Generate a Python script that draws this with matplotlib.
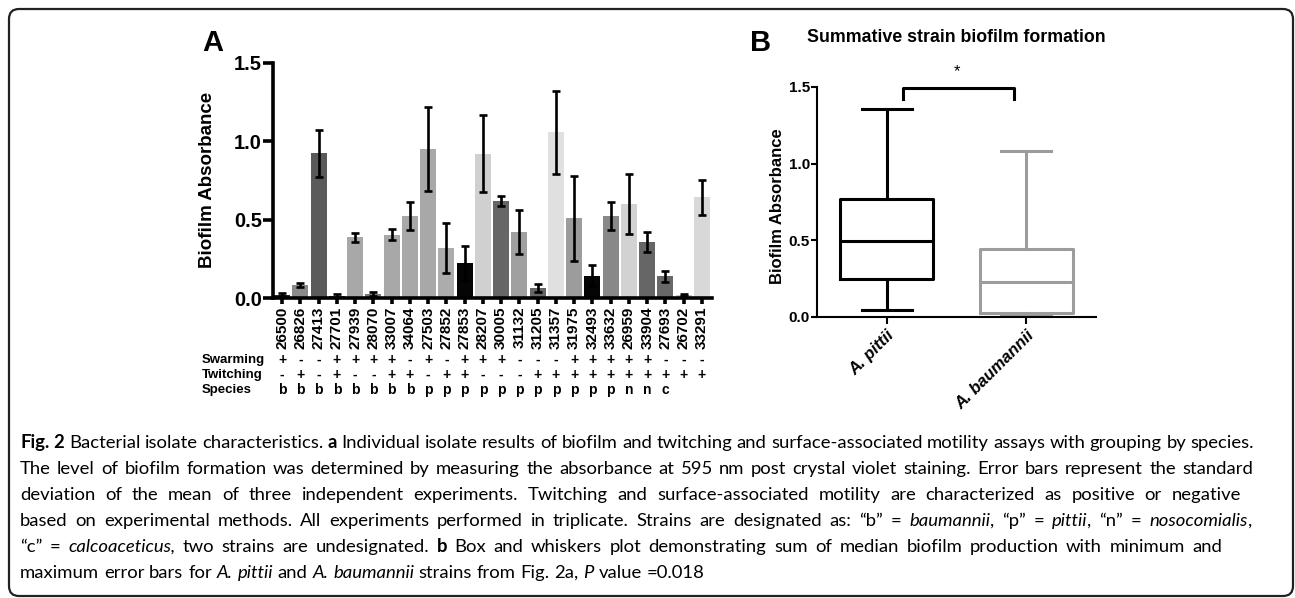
import matplotlib
matplotlib.use('Agg')
import matplotlib.pyplot as plt
import numpy as np
from matplotlib.patches import FancyBboxPatch
from matplotlib.ticker import FormatStrFormatter
from matplotlib.transforms import blended_transform_factory, IdentityTransform

# panel A: per-strain biofilm (mean, sd) and motility table
strains = ['26500', '26826', '27413', '27701', '27939', '28070', '33007', '34064',
           '27503', '27852', '27853', '28207', '30005', '31132', '31205', '31357',
           '31975', '32493', '33632', '26959', '33904', '27693', '26702', '33291']
biofilm = [0.02, 0.085, 0.925, 0.01, 0.387, 0.025, 0.404, 0.525,
           0.95, 0.32, 0.223, 0.921, 0.617, 0.419, 0.064, 1.057,
           0.509, 0.143, 0.523, 0.60, 0.355, 0.138, 0.02, 0.643]
biofilm_sd = [0.01, 0.013, 0.15, 0.015, 0.03, 0.015, 0.035, 0.09,
              0.27, 0.16, 0.11, 0.245, 0.032, 0.14, 0.027, 0.265,
              0.27, 0.066, 0.09, 0.19, 0.064, 0.035, 0.005, 0.113]
swarming = ['+', '-', '-', '+', '+', '+', '+', '-', '+', '-', '+', '+',
            '+', '-', '-', '-', '+', '+', '+', '+', '+', '-', '-', '-']
twitching = ['-', '+', '-', '+', '-', '-', '+', '+', '-', '+', '+', '-',
             '-', '-', '+', '+', '+', '+', '+', '+', '+', '+', '+', '+']
species = ['b', 'b', 'b', 'b', 'b', 'b', 'b', 'b', 'p', 'p', 'p', 'p',
           'p', 'p', 'p', 'p', 'p', 'p', 'p', 'n', 'n', 'c', '', '']

# panel B: box summary per species
groups = ['A. pittii', 'A. baumannii']
box_min = [0.046, 0.012]
box_q1 = [0.248, 0.026]
box_med = [0.496, 0.228]
box_q3 = [0.77, 0.443]
box_max = [1.357, 1.083]

bar_colors = ['#2a2a2a', '#8a8a8a', '#5a5a5a', '#444444', '#a8a8a8', '#777777',
              '#a8a8a8', '#a8a8a8', '#a8a8a8', '#acacac', '#050505', '#d0d0d0',
              '#666666', '#a0a0a0', '#666666', '#e0e0e0', '#9c9c9c', '#050505',
              '#888888', '#d2d2d2', '#666666', '#686868', '#c8c8c8', '#d8d8d8']
box_colors = ['black', '#9c9c9c']

W, H = 1295, 598
plt.rcParams['font.family'] = ['Liberation Sans', 'DejaVu Sans']
fig = plt.figure(figsize=(W / 100, H / 100), dpi=100)


def px(x0, y0, x1, y1):
    return [x0 / W, 1 - y1 / H, (x1 - x0) / W, (y1 - y0) / H]


def fy(y):
    return 1 - y / H


# ---- panel A ----
axA = fig.add_axes(px(273, 63, 712, 298))
x = np.arange(len(strains))
axA.bar(x, biofilm, width=0.88, color=bar_colors, yerr=biofilm_sd,
        error_kw=dict(ecolor='black', elinewidth=1.9, capsize=3, capthick=1.9))
axA.set_xlim(-0.5, len(strains) - 0.45)
axA.set_ylim(0, 1.5)
axA.set_yticks([0, 0.5, 1.0, 1.5])
axA.yaxis.set_major_formatter(FormatStrFormatter('%.1f'))
axA.set_xticks(x)
axA.set_xticklabels(strains, rotation=90, fontsize=11, fontweight='bold')
for s in ['top', 'right']:
    axA.spines[s].set_visible(False)
for s in ['left', 'bottom']:
    axA.spines[s].set_linewidth(2.6)
axA.tick_params(axis='y', length=7, width=2.6, labelsize=14.5, pad=1)
axA.tick_params(axis='x', length=4.5, width=2.6, pad=1.5)
for lbl in axA.get_yticklabels():
    lbl.set_fontweight('bold')
fig.text(208 / W, fy(180), 'Biofilm Absorbance', rotation=90, ha='center',
         va='center', fontsize=13.5, fontweight='bold')
fig.text(202 / W, fy(43), 'A', ha='left', va='center', fontsize=21, fontweight='bold')

# motility / species table under the bars
trans = blended_transform_factory(axA.transData, fig.transFigure)
rows = [('Swarming', swarming, 360), ('Twitching', twitching, 375), ('Species', species, 390)]
for name, vals, yy in rows:
    fig.text(202 / W, fy(yy), name, ha='left', va='center', fontsize=9.5, fontweight='bold')
    for i, v in enumerate(vals):
        axA.text(i, fy(yy), v, transform=trans, ha='center', va='center',
                 fontsize=10, fontweight='bold')

# ---- panel B ----
axB = fig.add_axes(px(817, 87, 1096, 317))
for i in range(len(groups)):
    st = dict(med=box_med[i], q1=box_q1[i], q3=box_q3[i], whislo=box_min[i],
              whishi=box_max[i], fliers=[], label=groups[i])
    lp = dict(color=box_colors[i], linewidth=2.2)
    axB.bxp([st], positions=[i + 1], widths=0.67, capwidths=0.36, showfliers=False,
            boxprops=lp, whiskerprops=lp, capprops=lp, medianprops=lp)
axB.set_xlim(0.5, 2.5)
axB.set_ylim(0, 1.5)
axB.set_yticks([0, 0.5, 1.0, 1.5])
axB.yaxis.set_major_formatter(FormatStrFormatter('%.1f'))
axB.set_xticks([1, 2])
axB.set_xticklabels(groups, rotation=45, ha='right', rotation_mode='anchor',
                    fontsize=12, fontweight='bold', fontstyle='italic')
for s in ['top', 'right']:
    axB.spines[s].set_visible(False)
for s in ['left', 'bottom']:
    axB.spines[s].set_linewidth(1.5)
axB.tick_params(axis='y', length=4, width=1.5, labelsize=11, pad=1)
axB.tick_params(axis='x', length=5, width=1.5, pad=3)
for lbl in axB.get_yticklabels():
    lbl.set_fontweight('bold')
axB.plot([1.12, 1.12, 1.91, 1.91], [1.42, 1.495, 1.495, 1.42], color='black',
         lw=2.2, clip_on=False)
axB.text(1.5, 1.6, '*', ha='center', va='center', fontsize=12)
fig.text(777 / W, fy(206), 'Biofilm Absorbance', rotation=90, ha='center',
         va='center', fontsize=12, fontweight='bold')
fig.text(956 / W, fy(37), 'Summative strain biofilm formation', ha='center',
         va='center', fontsize=12.8, fontweight='bold')
fig.text(750 / W, fy(43), 'B', ha='left', va='center', fontsize=21, fontweight='bold')

# ---- frame and caption ----
frame = FancyBboxPatch((9, 2), 1284, 587, boxstyle='round,pad=0,rounding_size=10',
                       transform=IdentityTransform(), fill=False, lw=1.6, ec='#222222')
fig.add_artist(frame)

N, B, I = 'normal', 'bold', 'italic'
caption = [
    [('Fig. 2', B), (' Bacterial isolate characteristics. ', N), ('a', B),
     (' Individual isolate results of biofilm and twitching and surface-associated motility assays with grouping by species.', N)],
    [('The level of biofilm formation was determined by measuring the absorbance at 595 nm post crystal violet staining. Error bars represent the standard', N)],
    [('deviation of the mean of three independent experiments. Twitching and surface-associated motility are characterized as positive or negative', N)],
    [('based on experimental methods. All experiments performed in triplicate. Strains are designated as: \u201cb\u201d = ', N),
     ('baumannii', I), (', \u201cp\u201d = ', N), ('pittii', I), (', \u201cn\u201d = ', N), ('nosocomialis', I), (',', N)],
    [('\u201cc\u201d = ', N), ('calcoaceticus,', I), (' two strains are undesignated. ', N), ('b', B),
     (' Box and whiskers plot demonstrating sum of median biofilm production with minimum and', N)],
    [('maximum error bars for ', N), ('A. pittii', I), (' and ', N), ('A. baumannii', I),
     (' strains from Fig. 2a, ', N), ('P', I), (' value =0.018', N)],
]
# right edge each caption line is set to (None = natural spacing)
line_ends = [1254, 1253, 1241, 1252, 1222, None]

renderer = fig.canvas.get_renderer()
cap_font = ['Lato', 'DejaVu Sans']


def style_kw(st, size):
    kw = dict(fontsize=size, family=cap_font)
    if st == B:
        kw['fontweight'] = 'bold'
    if st == I:
        kw['fontstyle'] = 'italic'
    return kw


def run_width(s, kw):
    t = fig.text(0, 0, '|' + s + '|', transform=IdentityTransform(), **kw)
    w = t.get_window_extent(renderer).width
    t.set_text('||')
    w -= t.get_window_extent(renderer).width
    t.remove()
    return w


def split_words(line):
    words = [[]]
    for s, st in line:
        for j, p in enumerate(s.split(' ')):
            if j > 0:
                words.append([])
            if p:
                words[-1].append((p, st))
    return [w for w in words if w]


# size the caption so the first line spans the frame
ref = 12.0
w1 = sum(run_width(s, style_kw(st, ref)) for s, st in caption[0])
cap_size = ref * (1254 - 20) / w1
space_w = run_width(' ', style_kw(N, cap_size))

for k, line in enumerate(caption):
    words = split_words(line)
    widths = [sum(run_width(p, style_kw(st, cap_size)) for p, st in w) for w in words]
    gap = space_w
    if line_ends[k] is not None and len(words) > 1:
        gap = (line_ends[k] - 20 - sum(widths)) / (len(words) - 1)
    xx = 20
    yy = H - (448 + 26 * k)
    for w, ww in zip(words, widths):
        xp = xx
        for p, st in w:
            kw = style_kw(st, cap_size)
            fig.text(xp, yy, p, transform=IdentityTransform(), ha='left', va='baseline', **kw)
            xp += run_width(p, kw)
        xx += ww + gap

fig.savefig('out.png', dpi=100)
